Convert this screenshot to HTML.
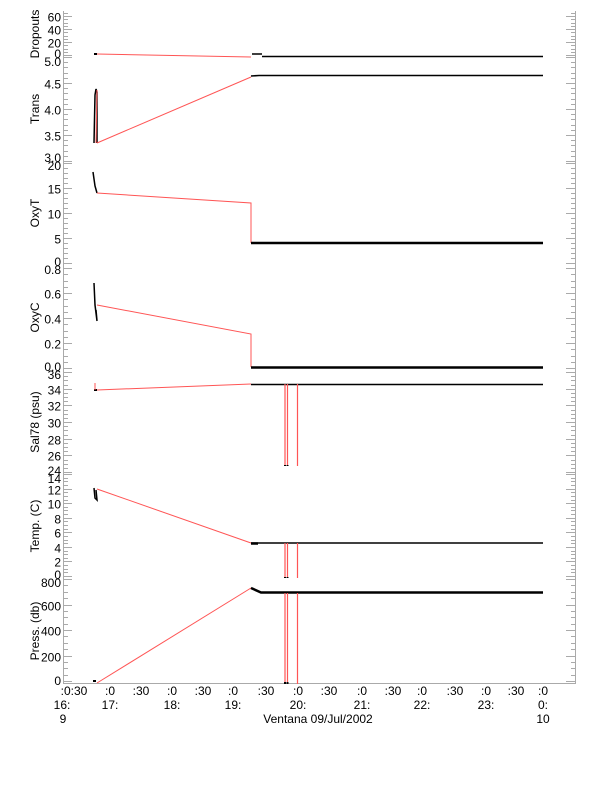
<!DOCTYPE html>
<html><head><meta charset="utf-8"><style>
html,body{margin:0;padding:0;background:#fff;}
svg{display:block;font-family:"Liberation Sans",sans-serif;}
</style></head><body>
<svg id="s" width="612" height="785" xmlns="http://www.w3.org/2000/svg"></svg>
<script>
const s=document.getElementById('s');const NS='http://www.w3.org/2000/svg';
function el(t,a,txt){const e=document.createElementNS(NS,t);for(const k in a)e.setAttribute(k,a[k]);if(txt!==undefined)e.textContent=txt;s.appendChild(e);return e;}
function line(x1,y1,x2,y2,c,w){el('line',{x1,y1,x2,y2,stroke:c,'stroke-width':w||1});}
function pl(pts,c,w){el('polyline',{points:pts.map(p=>p.join(',')).join(' '),fill:'none',stroke:c,'stroke-width':w||1});}
const G='#aaa';
// panels: top,bottom, vmin,vmax(at y0,y1 mapping), labels
const panels=[
 {t:11,b:57,y0:55,y1:16,v0:0,v1:60,maj:[0,20,40,60],minStep:5,vmin:-3,vmax:66,name:'Dropouts'},
 {t:57,b:161,y0:161,y1:57,v0:3,v1:5,maj:[3.0,3.5,4.0,4.5,5.0],minStep:0.1,vmin:3,vmax:5,name:'Trans',fmt:1},
 {t:161,b:265,y0:263,y1:163,v0:0,v1:20,maj:[0,5,10,15,20],minStep:1,vmin:-0.4,vmax:20.4,name:'OxyT'},
 {t:265,b:370,y0:368,y1:268,v0:0,v1:0.8,maj:[0,0.2,0.4,0.6,0.8],minStep:0.05,vmin:-0.01,vmax:0.82,name:'OxyC',fmt:1},
 {t:370,b:474,y0:472,y1:372,v0:24,v1:36,maj:[24,26,28,30,32,34,36],minStep:0.5,vmin:24,vmax:36.2,name:'Sal78 (psu)'},
 {t:474,b:578,y0:576,y1:474,v0:0,v1:14,maj:[0,2,4,6,8,10,12,14],minStep:0.5,vmin:-0.2,vmax:14,name:'Temp. (C)'},
 {t:578,b:684,y0:681,y1:579,v0:0,v1:800,maj:[0,200,400,600,800],minStep:50,vmin:-20,vmax:800,name:'Press. (db)'}
];
panels.forEach(p=>{
 const Y=v=>p.y0+(v-p.v0)*(p.y1-p.y0)/(p.v1-p.v0);
 line(63.5,p.t,63.5,p.b,G);line(575.5,p.t,575.5,p.b,G);
 for(let v=Math.ceil(p.vmin/p.minStep)*p.minStep;v<=p.vmax+1e-9;v+=p.minStep){const y=Math.round(Y(v))+0.5;if(y<p.t||y>p.b)continue;line(63,y,68,y,G);line(571,y,576,y,G);}
 p.maj.forEach(v=>{const y=Math.round(Y(v))+0.5;line(63,y,72,y,G);line(566,y,576,y,G);
  let y2=Math.min(Math.max(y+5,p.t+9),p.b+1);
  el('text',{x:61,y:y2,'text-anchor':'end','font-size':12},p.fmt?v.toFixed(1):String(v));});
 const cy=(p.t+p.b)/2;
 el('text',{x:0,y:0,'font-size':12,'text-anchor':'middle',transform:`translate(39,${cy}) rotate(-90)`},p.name);
});
line(63,683.5,576,683.5,G);
// x labels
const xl=[[110,':0','17:'],[141,':30'],[172,':0','18:'],[203,':30'],[233,':0','19:'],[266,':30'],[298,':0','20:'],[329,':30'],[362,':0','21:'],[393,':30'],[422,':0','22:'],[455,':30'],[486,':0','23:'],[516,':30'],[543,':0','0:']];
el('text',{x:74,y:695,'font-size':12,'text-anchor':'middle'},':0:30');
el('text',{x:62,y:709,'font-size':12,'text-anchor':'middle'},'16:');
el('text',{x:63,y:723,'font-size':12,'text-anchor':'middle'},'9');
xl.forEach(a=>{el('text',{x:a[0],y:695,'font-size':12,'text-anchor':'middle'},a[1]);if(a[2])el('text',{x:a[0],y:709,'font-size':12,'text-anchor':'middle'},a[2]);});
el('text',{x:543,y:723,'font-size':12,'text-anchor':'middle'},'10');
el('text',{x:318,y:723,'font-size':12,'text-anchor':'middle'},'Ventana 09/Jul/2002');
const R='#f55',K='#000';
// Dropouts
pl([[94,54],[97,54]],K,2);pl([[97,54],[251,57]],R);pl([[252,54],[262,54]],K,1.5);pl([[262,56.5],[543,56.5]],K,1.5);
// Trans
pl([[94,143],[95,95],[96,89],[97,92],[97,143]],K,1.5);pl([[96,143],[97,90]],R);pl([[97,143],[251,77]],R);pl([[251,76],[259,75.5],[543,75.5]],K,1.5);
// OxyT
pl([[93,172],[95,186],[97,193]],K,1.5);pl([[97,193],[251,203],[251,243]],R);pl([[251,243],[543,243]],K,2.5);
// OxyC
pl([[94,283],[95,305],[97,321],[96,310]],K,1.5);pl([[97,305],[251,334],[251,367]],R);pl([[251,367.5],[543,367.5]],K,2.5);
// Sal
pl([[94,390],[97,390]],K,2);pl([[95,383],[95,390]],R);pl([[97,390],[251,384]],R);pl([[251,384.5],[543,384.5]],K,1.5);
// Temp
pl([[94,488],[95,498],[97,500],[96,490]],K,1.5);pl([[97,489],[251,543]],R);pl([[251,543],[543,543]],K,1.5);pl([[251,543.5],[258,543.5]],K,2.5);
// Press
pl([[93,681],[96,681]],K,2);pl([[97,683],[251,588]],R);pl([[251,588],[261,592.5],[543,592.5]],K,2.5);
// spikes
[285,287.5,297.5].forEach(x=>{line(x,384,x,466,R,1.2);line(x,543,x,578,R,1.2);line(x,593,x,684,R,1.2);});
[285,287.5].forEach(x=>{line(x,465,x,466,K,2);line(x,577,x,578,K,2);line(x,682,x,684,K,2);});
</script>
</body></html>
